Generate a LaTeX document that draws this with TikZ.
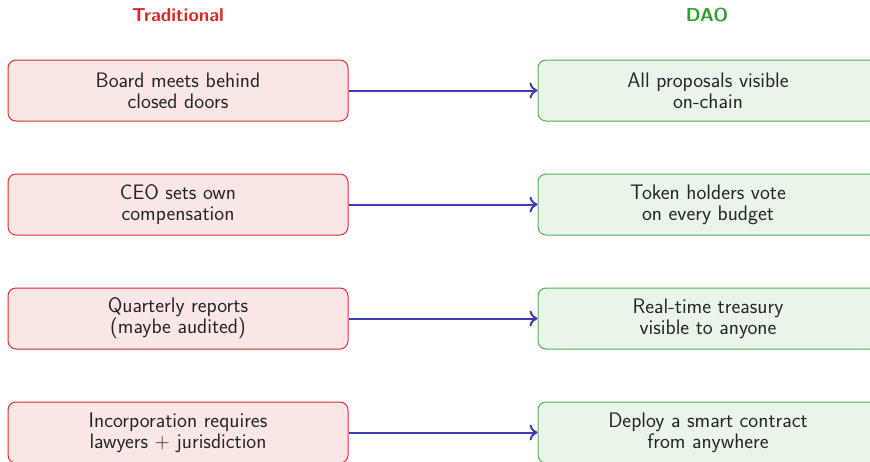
\documentclass[tikz,border=0pt]{standalone}
\usetikzlibrary{arrows.meta}
\definecolor{redline}{RGB}{222,45,45}
\definecolor{redfill}{RGB}{251,230,230}
\definecolor{greenline}{RGB}{80,178,80}
\definecolor{greenfill}{RGB}{233,245,233}
\definecolor{arrowblue}{RGB}{60,60,185}
\definecolor{titlered}{RGB}{215,40,40}
\definecolor{titlegreen}{RGB}{50,160,50}
\begin{document}
\begin{tikzpicture}[x=1pt,y=-1pt,
  every node/.style={font=\sffamily\fontsize{21}{21}\selectfont, text=black!85},
  oldbox/.style={draw=redline, fill=redfill, line width=1pt, rounded corners=8pt,
    minimum width=340pt, minimum height=61pt, align=center, inner sep=0pt},
  newbox/.style={draw=greenline, fill=greenfill, line width=1pt, rounded corners=8pt,
    minimum width=340pt, minimum height=61pt, align=center, inner sep=0pt},
  conn/.style={draw=arrowblue, line width=2pt, -{To[length=8pt,width=16pt]}},
  heading/.style={font=\sffamily\bfseries\fontsize{18.7}{21}\selectfont}
]
\useasboundingbox (0,0) rectangle (870,461);
\clip (0,0) rectangle (870,461);
\node[heading, text=titlered] (t1) at (178,15) {Traditional};
\node[heading, text=titlegreen] (t2) at (707,15) {DAO};

\node[oldbox] (a1) at (178,90.5) {Board meets behind\\closed doors};
\node[oldbox] (a2) at (178,204.5) {CEO sets own\\compensation};
\node[oldbox] (a3) at (178,318.5) {Quarterly reports\\(maybe audited)};
\node[oldbox] (a4) at (178,432.5) {Incorporation requires\\lawyers + jurisdiction};

\node[newbox] (b1) at (708,90.5) {All proposals visible\\on-chain};
\node[newbox] (b2) at (708,204.5) {Token holders vote\\on every budget};
\node[newbox] (b3) at (708,318.5) {Real-time treasury\\visible to anyone};
\node[newbox] (b4) at (708,432.5) {Deploy a smart contract\\from anywhere};

\draw[conn] (a1) -- (b1);
\draw[conn] (a2) -- (b2);
\draw[conn] (a3) -- (b3);
\draw[conn] (a4) -- (b4);
\end{tikzpicture}
\end{document}
